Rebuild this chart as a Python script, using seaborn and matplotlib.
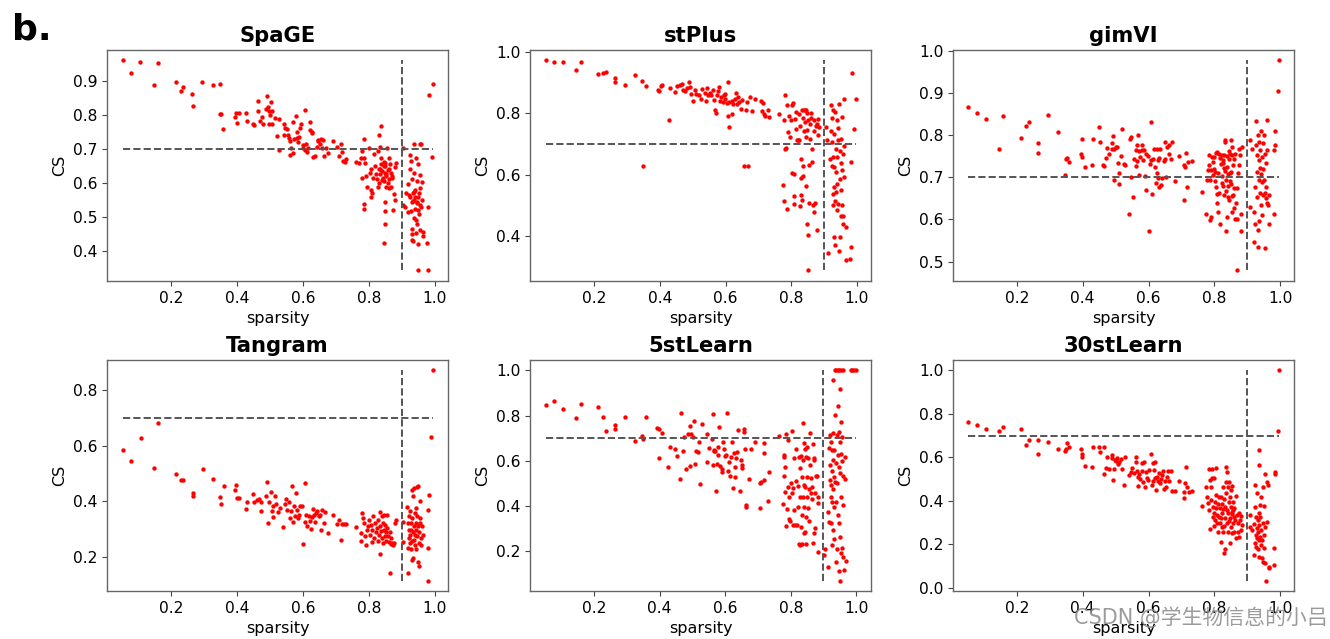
import matplotlib
matplotlib.use("Agg")
import matplotlib.pyplot as plt
import seaborn as sns
import pandas as pd

# ---------------- data ----------------
methods = ["SpaGE", "stPlus", "gimVI", "Tangram", "5stLearn", "30stLearn"]
cs_threshold = 0.7
sparsity_threshold = 0.9
x_ticks = [0.2, 0.4, 0.6, 0.8, 1.0]
y_ticks = {
    "SpaGE": [0.4, 0.5, 0.6, 0.7, 0.8, 0.9],
    "stPlus": [0.4, 0.6, 0.8, 1.0],
    "gimVI": [0.5, 0.6, 0.7, 0.8, 0.9, 1.0],
    "Tangram": [0.2, 0.4, 0.6, 0.8],
    "5stLearn": [0.2, 0.4, 0.6, 0.8, 1.0],
    "30stLearn": [0.0, 0.2, 0.4, 0.6, 0.8, 1.0],
}

# (sparsity, CS) per gene
spage_points = [
    (0.054, 0.961), (0.080, 0.925), (0.108, 0.957), (0.161, 0.952), (0.148, 0.888),
    (0.215, 0.897), (0.230, 0.871), (0.237, 0.884), (0.265, 0.863), (0.266, 0.827),
    (0.296, 0.896), (0.327, 0.889), (0.348, 0.891), (0.349, 0.804), (0.352, 0.803),
    (0.359, 0.759), (0.394, 0.794), (0.398, 0.805), (0.406, 0.807), (0.401, 0.778),
    (0.428, 0.806), (0.430, 0.782), (0.448, 0.773), (0.452, 0.770), (0.465, 0.841),
    (0.465, 0.812), (0.470, 0.784), (0.476, 0.794), (0.479, 0.775), (0.492, 0.855),
    (0.489, 0.817), (0.494, 0.825), (0.498, 0.811), (0.504, 0.838), (0.501, 0.800),
    (0.496, 0.773), (0.508, 0.813), (0.508, 0.773), (0.516, 0.790), (0.529, 0.788),
    (0.522, 0.739), (0.527, 0.697), (0.543, 0.775), (0.542, 0.740), (0.547, 0.761),
    (0.552, 0.758), (0.554, 0.741), (0.558, 0.733), (0.562, 0.724), (0.564, 0.702),
    (0.561, 0.684), (0.569, 0.780), (0.571, 0.689), (0.573, 0.729), (0.580, 0.797),
    (0.582, 0.751), (0.583, 0.733), (0.585, 0.721), (0.588, 0.736), (0.590, 0.763),
    (0.595, 0.774), (0.599, 0.703), (0.600, 0.713), (0.607, 0.814), (0.605, 0.697),
    (0.611, 0.691), (0.610, 0.716), (0.617, 0.704), (0.622, 0.779), (0.621, 0.755),
    (0.627, 0.751), (0.629, 0.747), (0.632, 0.678), (0.637, 0.679), (0.642, 0.706),
    (0.645, 0.724), (0.647, 0.728), (0.651, 0.714), (0.655, 0.729), (0.657, 0.704),
    (0.662, 0.727), (0.664, 0.681), (0.671, 0.704), (0.677, 0.689), (0.690, 0.724),
    (0.704, 0.706), (0.708, 0.679), (0.715, 0.715), (0.718, 0.690), (0.723, 0.665),
    (0.728, 0.661), (0.730, 0.672), (0.760, 0.661), (0.771, 0.660), (0.777, 0.675),
    (0.780, 0.694), (0.785, 0.729), (0.785, 0.675), (0.788, 0.660), (0.778, 0.616),
    (0.785, 0.539), (0.785, 0.525), (0.792, 0.621), (0.794, 0.588), (0.800, 0.704),
    (0.803, 0.631), (0.806, 0.641), (0.805, 0.581), (0.806, 0.559), (0.808, 0.572),
    (0.813, 0.616), (0.816, 0.686), (0.817, 0.650), (0.820, 0.628), (0.823, 0.611),
    (0.826, 0.587), (0.828, 0.694), (0.830, 0.740), (0.831, 0.641), (0.833, 0.626),
    (0.835, 0.706), (0.838, 0.767), (0.836, 0.675), (0.840, 0.636), (0.843, 0.616),
    (0.845, 0.606), (0.846, 0.663), (0.846, 0.425), (0.848, 0.544), (0.848, 0.517),
    (0.848, 0.479), (0.850, 0.650), (0.851, 0.587), (0.853, 0.626), (0.855, 0.704),
    (0.858, 0.639), (0.860, 0.675), (0.861, 0.611), (0.864, 0.655), (0.866, 0.589),
    (0.868, 0.630), (0.871, 0.616), (0.873, 0.522), (0.876, 0.569), (0.878, 0.550),
    (0.881, 0.658), (0.880, 0.648), (0.835, 0.640), (0.845, 0.650), (0.852, 0.620),
    (0.858, 0.600), (0.840, 0.610), (0.848, 0.630), (0.862, 0.640), (0.838, 0.655),
    (0.870, 0.620), (0.850, 0.660), (0.832, 0.600), (0.860, 0.585),
    (0.903, 0.703), (0.902, 0.535), (0.908, 0.529), (0.913, 0.571), (0.917, 0.596),
    (0.919, 0.515), (0.921, 0.566), (0.923, 0.683), (0.924, 0.641), (0.925, 0.560),
    (0.927, 0.665), (0.927, 0.517), (0.929, 0.611), (0.929, 0.464), (0.930, 0.449),
    (0.931, 0.433), (0.932, 0.429), (0.933, 0.571), (0.934, 0.547), (0.935, 0.498),
    (0.936, 0.714), (0.937, 0.631), (0.939, 0.581), (0.940, 0.560), (0.941, 0.525),
    (0.942, 0.490), (0.944, 0.675), (0.944, 0.454), (0.946, 0.606), (0.947, 0.545),
    (0.947, 0.480), (0.949, 0.422), (0.949, 0.343), (0.950, 0.655), (0.951, 0.571),
    (0.952, 0.510), (0.954, 0.714), (0.954, 0.461), (0.955, 0.585), (0.956, 0.624),
    (0.958, 0.714), (0.959, 0.529), (0.961, 0.604), (0.964, 0.444), (0.965, 0.457),
    (0.938, 0.550), (0.945, 0.540), (0.950, 0.560), (0.935, 0.575), (0.948, 0.520),
    (0.955, 0.535), (0.930, 0.545), (0.960, 0.550),
    (0.977, 0.424), (0.978, 0.529), (0.979, 0.343), (0.981, 0.860), (0.990, 0.676),
    (0.993, 0.892),
]

stplus_points = [
    (0.052, 0.973), (0.079, 0.966), (0.105, 0.967), (0.159, 0.966), (0.145, 0.940),
    (0.212, 0.930), (0.227, 0.933), (0.235, 0.934), (0.264, 0.916), (0.265, 0.902),
    (0.294, 0.892), (0.325, 0.925), (0.346, 0.905), (0.358, 0.888), (0.349, 0.630),
    (0.393, 0.877), (0.397, 0.872), (0.404, 0.890), (0.408, 0.893), (0.427, 0.780),
    (0.430, 0.883), (0.446, 0.870), (0.453, 0.888), (0.461, 0.893), (0.466, 0.897),
    (0.471, 0.877), (0.478, 0.872), (0.483, 0.883), (0.490, 0.901), (0.493, 0.885),
    (0.496, 0.864), (0.500, 0.840), (0.508, 0.877), (0.511, 0.864), (0.518, 0.860),
    (0.525, 0.848), (0.528, 0.880), (0.537, 0.868), (0.541, 0.842), (0.545, 0.882),
    (0.548, 0.859), (0.552, 0.867), (0.557, 0.860), (0.563, 0.875), (0.566, 0.845),
    (0.569, 0.812), (0.572, 0.801), (0.574, 0.859), (0.578, 0.873), (0.580, 0.886),
    (0.584, 0.842), (0.587, 0.853), (0.591, 0.837), (0.594, 0.859), (0.597, 0.848),
    (0.599, 0.862), (0.603, 0.834), (0.607, 0.792), (0.608, 0.903), (0.610, 0.755),
    (0.612, 0.837), (0.619, 0.842), (0.620, 0.799), (0.624, 0.832), (0.629, 0.848),
    (0.631, 0.866), (0.634, 0.832), (0.639, 0.853), (0.642, 0.837), (0.646, 0.815),
    (0.649, 0.845), (0.655, 0.627), (0.662, 0.811), (0.668, 0.630), (0.665, 0.837),
    (0.673, 0.855), (0.680, 0.807), (0.691, 0.848), (0.707, 0.839), (0.711, 0.808),
    (0.715, 0.835), (0.718, 0.799), (0.720, 0.793), (0.730, 0.812), (0.732, 0.788),
    (0.763, 0.797), (0.776, 0.568), (0.778, 0.780), (0.779, 0.516), (0.781, 0.685),
    (0.781, 0.859), (0.784, 0.688), (0.787, 0.826), (0.788, 0.489), (0.791, 0.739),
    (0.792, 0.790), (0.796, 0.723), (0.798, 0.777), (0.801, 0.829), (0.806, 0.834),
    (0.803, 0.605), (0.807, 0.531), (0.809, 0.505), (0.809, 0.603), (0.811, 0.783),
    (0.813, 0.804), (0.816, 0.750), (0.819, 0.714), (0.821, 0.712), (0.823, 0.799),
    (0.825, 0.712), (0.826, 0.758), (0.827, 0.497), (0.829, 0.533), (0.830, 0.591),
    (0.831, 0.652), (0.833, 0.812), (0.834, 0.519), (0.835, 0.630), (0.837, 0.784),
    (0.837, 0.597), (0.839, 0.743), (0.840, 0.812), (0.841, 0.771), (0.843, 0.812),
    (0.844, 0.563), (0.845, 0.723), (0.846, 0.810), (0.848, 0.745), (0.849, 0.801),
    (0.849, 0.440), (0.850, 0.405), (0.851, 0.288), (0.852, 0.777), (0.853, 0.633),
    (0.855, 0.508), (0.856, 0.717), (0.858, 0.764), (0.859, 0.784), (0.861, 0.801),
    (0.862, 0.641), (0.864, 0.685), (0.866, 0.500), (0.868, 0.743), (0.869, 0.478),
    (0.870, 0.777), (0.872, 0.508), (0.875, 0.758), (0.877, 0.421), (0.878, 0.767),
    (0.881, 0.728), (0.882, 0.783), (0.885, 0.755),
    (0.907, 0.755), (0.910, 0.714), (0.912, 0.346), (0.919, 0.652), (0.920, 0.742),
    (0.922, 0.826), (0.923, 0.627), (0.924, 0.707), (0.925, 0.786), (0.926, 0.659),
    (0.927, 0.810), (0.927, 0.538), (0.928, 0.500), (0.929, 0.733), (0.929, 0.625),
    (0.930, 0.559), (0.931, 0.397), (0.932, 0.516), (0.933, 0.804), (0.934, 0.370),
    (0.935, 0.685), (0.936, 0.544), (0.937, 0.609), (0.938, 0.777), (0.939, 0.484),
    (0.939, 0.657), (0.940, 0.571), (0.941, 0.753), (0.942, 0.712), (0.943, 0.505),
    (0.944, 0.351), (0.945, 0.832), (0.947, 0.587), (0.948, 0.397), (0.949, 0.679),
    (0.950, 0.549), (0.951, 0.717), (0.952, 0.467), (0.953, 0.637), (0.954, 0.500),
    (0.955, 0.617), (0.956, 0.788), (0.957, 0.440), (0.958, 0.668), (0.959, 0.464),
    (0.960, 0.848), (0.961, 0.592), (0.962, 0.695), (0.966, 0.431), (0.967, 0.321),
    (0.980, 0.326), (0.981, 0.366), (0.981, 0.643), (0.984, 0.933), (0.991, 0.750),
    (0.996, 0.846),
]

gimvi_points = [
    (0.053, 0.867), (0.080, 0.852), (0.107, 0.838), (0.146, 0.766), (0.159, 0.846),
    (0.214, 0.793), (0.228, 0.821), (0.236, 0.830), (0.265, 0.782), (0.265, 0.758),
    (0.295, 0.848), (0.326, 0.807), (0.348, 0.743), (0.352, 0.745), (0.357, 0.737),
    (0.347, 0.705), (0.394, 0.756), (0.399, 0.791), (0.398, 0.748), (0.408, 0.724),
    (0.428, 0.730), (0.431, 0.791), (0.448, 0.818), (0.453, 0.784), (0.463, 0.728),
    (0.465, 0.726), (0.470, 0.746), (0.475, 0.769), (0.479, 0.756), (0.488, 0.781),
    (0.490, 0.768), (0.492, 0.798), (0.494, 0.693), (0.496, 0.767), (0.500, 0.771),
    (0.505, 0.772), (0.508, 0.734), (0.510, 0.711), (0.510, 0.685), (0.517, 0.750),
    (0.520, 0.815), (0.526, 0.731), (0.529, 0.730), (0.541, 0.613), (0.543, 0.791),
    (0.546, 0.795), (0.546, 0.701), (0.554, 0.652), (0.556, 0.742), (0.561, 0.764),
    (0.563, 0.726), (0.564, 0.776), (0.564, 0.738), (0.569, 0.799), (0.571, 0.763),
    (0.571, 0.705), (0.575, 0.747), (0.579, 0.777), (0.581, 0.764), (0.584, 0.740),
    (0.587, 0.764), (0.589, 0.702), (0.591, 0.669), (0.593, 0.756), (0.597, 0.751),
    (0.602, 0.573), (0.604, 0.731), (0.607, 0.740), (0.608, 0.831), (0.611, 0.660),
    (0.613, 0.744), (0.617, 0.766), (0.621, 0.724), (0.622, 0.686), (0.625, 0.709),
    (0.626, 0.766), (0.628, 0.697), (0.629, 0.740), (0.631, 0.677), (0.633, 0.746),
    (0.635, 0.766), (0.638, 0.681), (0.641, 0.699), (0.647, 0.738), (0.649, 0.784),
    (0.651, 0.744), (0.654, 0.701), (0.657, 0.772), (0.661, 0.755), (0.663, 0.776),
    (0.667, 0.742), (0.672, 0.784), (0.680, 0.690), (0.692, 0.750), (0.707, 0.730),
    (0.708, 0.647), (0.710, 0.724), (0.714, 0.757), (0.717, 0.677), (0.720, 0.736),
    (0.732, 0.738), (0.763, 0.664), (0.776, 0.612), (0.778, 0.694), (0.781, 0.716),
    (0.783, 0.752), (0.785, 0.728), (0.786, 0.694), (0.788, 0.598), (0.790, 0.716),
    (0.791, 0.606), (0.793, 0.748), (0.795, 0.736), (0.796, 0.705), (0.798, 0.720),
    (0.800, 0.748), (0.801, 0.690), (0.803, 0.712), (0.804, 0.677), (0.806, 0.757),
    (0.807, 0.661), (0.808, 0.760), (0.809, 0.640), (0.810, 0.710), (0.811, 0.617),
    (0.813, 0.754), (0.815, 0.663), (0.817, 0.590), (0.818, 0.746), (0.820, 0.731),
    (0.822, 0.703), (0.823, 0.686), (0.824, 0.752), (0.825, 0.740), (0.826, 0.679),
    (0.827, 0.733), (0.828, 0.723), (0.829, 0.657), (0.830, 0.752), (0.831, 0.715),
    (0.832, 0.788), (0.833, 0.784), (0.834, 0.668), (0.835, 0.573), (0.836, 0.694),
    (0.837, 0.750), (0.838, 0.606), (0.839, 0.725), (0.840, 0.680), (0.841, 0.654),
    (0.842, 0.707), (0.843, 0.762), (0.844, 0.742), (0.845, 0.645), (0.846, 0.709),
    (0.847, 0.755), (0.848, 0.690), (0.849, 0.789), (0.850, 0.712), (0.851, 0.683),
    (0.852, 0.618), (0.853, 0.752), (0.854, 0.655), (0.855, 0.772), (0.856, 0.728),
    (0.857, 0.659), (0.859, 0.744), (0.860, 0.674), (0.861, 0.626), (0.862, 0.600),
    (0.864, 0.755), (0.866, 0.639), (0.868, 0.600), (0.869, 0.479), (0.870, 0.674),
    (0.872, 0.709), (0.874, 0.768), (0.876, 0.729), (0.878, 0.752), (0.880, 0.612),
    (0.882, 0.572), (0.884, 0.772),
    (0.907, 0.630), (0.907, 0.789), (0.914, 0.768), (0.919, 0.547), (0.921, 0.618),
    (0.922, 0.590), (0.924, 0.677), (0.926, 0.833), (0.927, 0.776), (0.928, 0.752),
    (0.929, 0.712), (0.930, 0.653), (0.931, 0.535), (0.932, 0.576), (0.933, 0.799),
    (0.934, 0.740), (0.935, 0.694), (0.936, 0.597), (0.937, 0.783), (0.938, 0.723),
    (0.939, 0.662), (0.940, 0.764), (0.941, 0.634), (0.942, 0.707), (0.943, 0.810),
    (0.944, 0.610), (0.945, 0.748), (0.946, 0.689), (0.947, 0.720), (0.948, 0.780),
    (0.949, 0.659), (0.950, 0.799), (0.952, 0.694), (0.953, 0.756), (0.954, 0.531),
    (0.955, 0.662), (0.956, 0.733), (0.957, 0.650), (0.958, 0.677), (0.959, 0.764),
    (0.960, 0.640), (0.961, 0.835), (0.963, 0.634), (0.965, 0.659), (0.967, 0.588),
    (0.981, 0.612), (0.982, 0.764), (0.983, 0.776), (0.985, 0.810), (0.993, 0.904),
    (0.995, 0.977),
]

tangram_points = [
    (0.053, 0.584), (0.080, 0.546), (0.108, 0.626), (0.148, 0.521), (0.161, 0.681),
    (0.215, 0.499), (0.230, 0.478), (0.237, 0.476), (0.265, 0.430), (0.266, 0.418),
    (0.296, 0.517), (0.327, 0.481), (0.348, 0.414), (0.352, 0.389), (0.359, 0.454),
    (0.394, 0.439), (0.398, 0.460), (0.401, 0.410), (0.406, 0.410), (0.428, 0.372),
    (0.430, 0.396), (0.448, 0.427), (0.452, 0.396), (0.462, 0.403), (0.466, 0.408),
    (0.472, 0.396), (0.474, 0.365), (0.489, 0.418), (0.492, 0.469), (0.494, 0.320),
    (0.496, 0.398), (0.504, 0.432), (0.507, 0.363), (0.508, 0.381), (0.510, 0.344),
    (0.515, 0.418), (0.517, 0.391), (0.525, 0.360), (0.529, 0.377), (0.540, 0.307),
    (0.545, 0.391), (0.549, 0.408), (0.552, 0.369), (0.559, 0.397), (0.562, 0.339),
    (0.565, 0.365), (0.568, 0.456), (0.571, 0.324), (0.574, 0.384), (0.577, 0.345),
    (0.579, 0.430), (0.582, 0.369), (0.585, 0.339), (0.587, 0.351), (0.591, 0.384),
    (0.596, 0.384), (0.599, 0.247), (0.607, 0.466), (0.607, 0.324), (0.610, 0.351),
    (0.613, 0.309), (0.617, 0.347), (0.621, 0.327), (0.623, 0.300), (0.627, 0.342),
    (0.630, 0.372), (0.633, 0.351), (0.636, 0.324), (0.639, 0.357), (0.643, 0.363),
    (0.647, 0.345), (0.652, 0.351), (0.655, 0.297), (0.659, 0.369), (0.663, 0.321),
    (0.667, 0.362), (0.677, 0.285), (0.690, 0.349), (0.704, 0.318), (0.710, 0.333),
    (0.715, 0.261), (0.718, 0.319), (0.723, 0.319), (0.730, 0.319), (0.760, 0.307),
    (0.775, 0.285), (0.777, 0.255), (0.778, 0.357), (0.781, 0.339), (0.785, 0.321),
    (0.788, 0.273), (0.790, 0.241), (0.793, 0.297), (0.796, 0.309), (0.800, 0.333),
    (0.803, 0.279), (0.806, 0.315), (0.808, 0.252), (0.810, 0.297), (0.813, 0.345),
    (0.815, 0.267), (0.818, 0.321), (0.820, 0.288), (0.823, 0.303), (0.826, 0.255),
    (0.828, 0.333), (0.830, 0.279), (0.832, 0.360), (0.833, 0.211), (0.834, 0.309),
    (0.836, 0.291), (0.838, 0.345), (0.840, 0.267), (0.841, 0.321), (0.843, 0.249),
    (0.845, 0.297), (0.846, 0.351), (0.848, 0.276), (0.850, 0.315), (0.852, 0.255),
    (0.853, 0.288), (0.855, 0.351), (0.856, 0.303), (0.858, 0.273), (0.860, 0.252),
    (0.863, 0.288), (0.865, 0.141), (0.866, 0.246), (0.868, 0.267), (0.871, 0.249),
    (0.873, 0.243), (0.876, 0.249), (0.878, 0.321), (0.881, 0.333),
    (0.902, 0.252), (0.904, 0.324), (0.916, 0.379), (0.917, 0.141), (0.918, 0.233),
    (0.919, 0.321), (0.920, 0.267), (0.921, 0.345), (0.922, 0.297), (0.923, 0.249),
    (0.924, 0.363), (0.925, 0.279), (0.926, 0.321), (0.927, 0.228), (0.928, 0.297),
    (0.929, 0.442), (0.929, 0.189), (0.930, 0.255), (0.931, 0.339), (0.932, 0.288),
    (0.933, 0.420), (0.934, 0.197), (0.935, 0.309), (0.936, 0.261), (0.937, 0.448),
    (0.938, 0.357), (0.939, 0.279), (0.940, 0.243), (0.941, 0.321), (0.942, 0.375),
    (0.943, 0.297), (0.944, 0.228), (0.945, 0.451), (0.946, 0.273), (0.947, 0.345),
    (0.948, 0.309), (0.949, 0.454), (0.950, 0.180), (0.951, 0.166), (0.952, 0.249),
    (0.953, 0.288), (0.954, 0.400), (0.955, 0.321), (0.956, 0.339), (0.957, 0.267),
    (0.959, 0.243), (0.961, 0.309), (0.963, 0.279),
    (0.978, 0.369), (0.979, 0.231), (0.979, 0.114), (0.981, 0.424), (0.989, 0.632),
    (0.993, 0.871),
]

stlearn5_points = [
    (0.052, 0.849), (0.079, 0.863), (0.105, 0.829), (0.145, 0.789), (0.159, 0.852),
    (0.212, 0.840), (0.227, 0.796), (0.235, 0.734), (0.264, 0.759), (0.265, 0.741),
    (0.294, 0.792), (0.325, 0.688), (0.346, 0.710), (0.349, 0.695), (0.358, 0.796),
    (0.393, 0.744), (0.399, 0.741), (0.398, 0.611), (0.407, 0.722), (0.427, 0.574),
    (0.432, 0.663), (0.447, 0.653), (0.453, 0.622), (0.463, 0.521), (0.466, 0.811),
    (0.470, 0.642), (0.475, 0.704), (0.480, 0.565), (0.488, 0.718), (0.493, 0.755),
    (0.494, 0.577), (0.497, 0.718), (0.503, 0.704), (0.506, 0.778), (0.508, 0.585),
    (0.510, 0.644), (0.516, 0.641), (0.520, 0.682), (0.524, 0.497), (0.529, 0.763),
    (0.544, 0.718), (0.545, 0.596), (0.550, 0.656), (0.559, 0.695), (0.562, 0.582),
    (0.563, 0.806), (0.565, 0.648), (0.567, 0.645), (0.569, 0.644), (0.571, 0.468),
    (0.574, 0.585), (0.577, 0.626), (0.579, 0.663), (0.582, 0.749), (0.584, 0.577),
    (0.589, 0.562), (0.591, 0.552), (0.593, 0.685), (0.596, 0.651), (0.600, 0.622),
    (0.604, 0.626), (0.607, 0.811), (0.609, 0.557), (0.612, 0.596), (0.616, 0.533),
    (0.619, 0.619), (0.622, 0.685), (0.624, 0.478), (0.627, 0.636), (0.629, 0.530),
    (0.631, 0.574), (0.633, 0.614), (0.636, 0.638), (0.640, 0.737), (0.645, 0.466),
    (0.648, 0.604), (0.651, 0.582), (0.652, 0.567), (0.656, 0.729), (0.658, 0.741),
    (0.660, 0.651), (0.663, 0.404), (0.665, 0.394), (0.673, 0.518), (0.680, 0.653),
    (0.690, 0.685), (0.705, 0.390), (0.707, 0.500), (0.710, 0.508), (0.718, 0.633),
    (0.718, 0.678), (0.720, 0.515), (0.730, 0.423), (0.733, 0.552), (0.763, 0.710),
    (0.776, 0.409), (0.778, 0.534), (0.779, 0.616), (0.781, 0.626), (0.783, 0.571),
    (0.784, 0.463), (0.786, 0.311), (0.787, 0.719), (0.788, 0.385), (0.791, 0.693),
    (0.793, 0.486), (0.794, 0.341), (0.796, 0.441), (0.798, 0.333), (0.801, 0.500),
    (0.803, 0.456), (0.805, 0.732), (0.807, 0.316), (0.808, 0.478), (0.810, 0.611),
    (0.811, 0.382), (0.813, 0.316), (0.815, 0.512), (0.817, 0.651), (0.819, 0.316),
    (0.821, 0.489), (0.823, 0.397), (0.824, 0.619), (0.826, 0.230), (0.827, 0.441),
    (0.828, 0.567), (0.829, 0.227), (0.831, 0.622), (0.832, 0.308), (0.833, 0.527),
    (0.834, 0.360), (0.835, 0.234), (0.836, 0.766), (0.837, 0.604), (0.838, 0.441),
    (0.839, 0.282), (0.840, 0.678), (0.841, 0.493), (0.842, 0.397), (0.843, 0.651),
    (0.844, 0.286), (0.845, 0.486), (0.846, 0.234), (0.847, 0.353), (0.848, 0.619),
    (0.849, 0.441), (0.850, 0.663), (0.851, 0.530), (0.852, 0.390), (0.853, 0.611),
    (0.855, 0.474), (0.857, 0.333), (0.858, 0.582), (0.860, 0.722), (0.862, 0.522),
    (0.863, 0.456), (0.865, 0.486), (0.866, 0.429), (0.868, 0.237), (0.869, 0.675),
    (0.870, 0.614), (0.871, 0.279), (0.872, 0.604), (0.874, 0.459), (0.875, 0.301),
    (0.877, 0.533), (0.881, 0.533), (0.882, 0.412), (0.884, 0.441), (0.884, 0.197),
    (0.902, 0.183), (0.905, 0.208), (0.913, 0.128), (0.915, 0.375), (0.916, 0.330),
    (0.918, 0.656), (0.919, 0.515), (0.920, 0.715), (0.921, 0.582), (0.922, 0.441),
    (0.923, 0.685), (0.923, 0.323), (0.924, 0.494), (0.925, 0.227), (0.925, 0.648),
    (0.926, 0.555), (0.927, 0.419), (0.928, 0.722), (0.928, 0.293), (0.929, 0.604),
    (0.930, 0.474), (0.930, 0.959), (0.931, 0.530), (0.932, 0.397), (0.933, 0.648),
    (0.933, 0.256), (0.934, 1.000), (0.935, 0.508), (0.936, 0.803), (0.937, 0.589),
    (0.938, 0.419), (0.939, 0.153), (0.939, 1.000), (0.940, 0.715), (0.941, 0.500),
    (0.942, 0.208), (0.943, 0.626), (0.944, 1.000), (0.944, 0.360), (0.945, 0.843),
    (0.946, 0.574), (0.947, 0.729), (0.947, 0.113), (0.948, 0.323), (0.948, 1.000),
    (0.949, 0.685), (0.950, 0.545), (0.950, 0.919), (0.950, 0.070), (0.951, 0.264),
    (0.952, 1.000), (0.952, 0.630), (0.953, 0.441), (0.954, 0.774), (0.954, 0.190),
    (0.955, 0.704), (0.956, 0.212), (0.957, 0.601), (0.958, 0.533), (0.959, 1.000),
    (0.959, 0.404), (0.960, 0.175), (0.962, 0.116), (0.965, 0.518), (0.967, 0.619),
    (0.969, 0.157), (0.983, 1.000), (0.988, 1.000), (0.993, 1.000), (0.998, 1.000),
]

stlearn30_points = [
    (0.053, 0.765), (0.080, 0.748), (0.107, 0.732), (0.146, 0.722), (0.159, 0.742),
    (0.214, 0.733), (0.228, 0.658), (0.236, 0.681), (0.265, 0.681), (0.265, 0.617),
    (0.295, 0.673), (0.326, 0.638), (0.348, 0.638), (0.352, 0.666), (0.357, 0.647),
    (0.346, 0.632), (0.394, 0.638), (0.399, 0.617), (0.399, 0.604), (0.408, 0.563),
    (0.428, 0.555), (0.431, 0.646), (0.448, 0.650), (0.453, 0.626), (0.465, 0.647),
    (0.465, 0.525), (0.470, 0.551), (0.475, 0.600), (0.479, 0.546), (0.488, 0.612),
    (0.490, 0.597), (0.492, 0.497), (0.494, 0.546), (0.497, 0.589), (0.500, 0.586),
    (0.505, 0.597), (0.508, 0.571), (0.510, 0.581), (0.515, 0.592), (0.518, 0.546),
    (0.526, 0.475), (0.529, 0.604), (0.541, 0.520), (0.546, 0.535), (0.551, 0.551),
    (0.556, 0.528), (0.561, 0.581), (0.563, 0.601), (0.564, 0.540), (0.569, 0.512),
    (0.569, 0.469), (0.572, 0.525), (0.575, 0.500), (0.579, 0.574), (0.581, 0.538),
    (0.584, 0.489), (0.586, 0.577), (0.589, 0.466), (0.591, 0.531), (0.596, 0.505),
    (0.599, 0.497), (0.602, 0.543), (0.607, 0.615), (0.609, 0.474), (0.612, 0.492),
    (0.615, 0.574), (0.617, 0.543), (0.620, 0.505), (0.621, 0.581), (0.624, 0.451),
    (0.627, 0.512), (0.629, 0.494), (0.631, 0.528), (0.634, 0.482), (0.637, 0.500),
    (0.640, 0.520), (0.643, 0.540), (0.646, 0.454), (0.649, 0.492), (0.652, 0.466),
    (0.655, 0.512), (0.658, 0.540), (0.662, 0.492), (0.667, 0.540), (0.672, 0.448),
    (0.680, 0.446), (0.692, 0.494), (0.707, 0.439), (0.709, 0.413), (0.710, 0.482),
    (0.714, 0.555), (0.718, 0.466), (0.722, 0.443), (0.732, 0.446), (0.763, 0.379),
    (0.776, 0.463), (0.778, 0.420), (0.780, 0.390), (0.783, 0.359), (0.785, 0.548),
    (0.786, 0.497), (0.788, 0.271), (0.790, 0.405), (0.791, 0.466), (0.792, 0.505),
    (0.793, 0.548), (0.795, 0.374), (0.796, 0.328), (0.798, 0.505), (0.799, 0.285),
    (0.800, 0.344), (0.801, 0.397), (0.803, 0.313), (0.804, 0.426), (0.805, 0.551),
    (0.806, 0.367), (0.807, 0.336), (0.809, 0.301), (0.810, 0.387), (0.812, 0.259),
    (0.813, 0.420), (0.814, 0.328), (0.816, 0.367), (0.817, 0.298), (0.819, 0.212),
    (0.820, 0.321), (0.821, 0.420), (0.822, 0.387), (0.823, 0.282), (0.824, 0.344),
    (0.825, 0.466), (0.826, 0.259), (0.827, 0.362), (0.828, 0.287), (0.829, 0.410),
    (0.830, 0.163), (0.831, 0.321), (0.832, 0.370), (0.833, 0.178), (0.834, 0.485),
    (0.835, 0.555), (0.836, 0.436), (0.837, 0.298), (0.838, 0.359), (0.839, 0.535),
    (0.840, 0.256), (0.841, 0.344), (0.842, 0.466), (0.843, 0.397), (0.844, 0.310),
    (0.845, 0.489), (0.846, 0.206), (0.847, 0.420), (0.848, 0.321), (0.849, 0.374),
    (0.850, 0.451), (0.851, 0.282), (0.852, 0.351), (0.853, 0.469), (0.854, 0.254),
    (0.855, 0.340), (0.856, 0.394), (0.857, 0.298), (0.858, 0.359), (0.859, 0.259),
    (0.860, 0.328), (0.861, 0.367), (0.864, 0.313), (0.866, 0.232), (0.867, 0.425),
    (0.869, 0.336), (0.871, 0.298), (0.872, 0.259), (0.874, 0.344), (0.876, 0.236),
    (0.878, 0.313), (0.880, 0.333), (0.882, 0.267), (0.884, 0.290),
    (0.907, 0.282), (0.907, 0.336), (0.914, 0.267), (0.919, 0.152), (0.921, 0.293),
    (0.922, 0.206), (0.923, 0.374), (0.924, 0.474), (0.925, 0.244), (0.926, 0.325),
    (0.927, 0.190), (0.928, 0.275), (0.929, 0.436), (0.930, 0.229), (0.931, 0.313),
    (0.932, 0.178), (0.933, 0.259), (0.934, 0.566), (0.934, 0.344), (0.935, 0.221),
    (0.936, 0.635), (0.936, 0.290), (0.937, 0.144), (0.938, 0.233), (0.939, 0.383),
    (0.940, 0.325), (0.941, 0.198), (0.942, 0.420), (0.943, 0.267), (0.944, 0.137),
    (0.946, 0.222), (0.947, 0.466), (0.948, 0.298), (0.949, 0.121), (0.950, 0.245),
    (0.951, 0.379), (0.952, 0.184), (0.953, 0.282), (0.954, 0.523), (0.955, 0.113),
    (0.957, 0.034), (0.959, 0.305), (0.961, 0.489), (0.963, 0.474), (0.965, 0.098),
    (0.967, 0.090), (0.981, 0.183), (0.982, 0.106), (0.983, 0.525), (0.985, 0.531),
    (0.994, 0.724), (0.995, 1.000),
]

panel_points = [spage_points, stplus_points, gimvi_points,
                tangram_points, stlearn5_points, stlearn30_points]

# ---------------- style ----------------
plt.rcParams["font.family"] = ["DejaVu Sans", "Noto Sans CJK SC"]
plt.rcParams["axes.edgecolor"] = "#666666"
plt.rcParams["axes.linewidth"] = 1.0
plt.rcParams["xtick.color"] = "#444444"
plt.rcParams["ytick.color"] = "#444444"
plt.rcParams["xtick.labelcolor"] = "black"
plt.rcParams["ytick.labelcolor"] = "black"

fig, axes = plt.subplots(2, 3, figsize=(13.3, 6.39), dpi=100)
fig.subplots_adjust(left=0.0805, right=0.973, top=0.922, bottom=0.075,
                    wspace=0.24, hspace=0.342)

for ax, name, pts in zip(axes.flat, methods, panel_points):
    df = pd.DataFrame(pts, columns=["sparsity", "CS"])
    sns.scatterplot(data=df, x="sparsity", y="CS", ax=ax, color="#ff0000",
                    s=10, linewidth=0, zorder=2)
    ax.hlines(cs_threshold, df["sparsity"].min(), df["sparsity"].max(),
              colors="#555555", linestyles="--", linewidth=1.4, zorder=3)
    ax.vlines(sparsity_threshold, df["CS"].min(), df["CS"].max(),
              colors="#555555", linestyles="--", linewidth=1.4, zorder=3)
    ax.set_title(name, fontsize=15.2, fontweight="bold")
    ax.set_xlabel("sparsity", fontsize=11.5)
    ax.set_ylabel("CS", fontsize=11.5)
    ax.set_xticks(x_ticks)
    ax.set_xticklabels([f"{t:.1f}" for t in x_ticks])
    yt = y_ticks[name]
    ax.set_yticks(yt)
    ax.set_yticklabels([f"{t:.1f}" for t in yt])
    ax.tick_params(labelsize=11.2)

fig.text(0.009, 1 - 40 / 639, "b.", fontsize=26, fontweight="bold",
         va="baseline", ha="left")
fig.text(0.903, 1 - 617 / 639, "CSDN @学生物信息的小吕", fontsize=15,
         color="#8a8a8a", alpha=0.85, ha="center", va="center")

fig.savefig("out.png", dpi=100)
